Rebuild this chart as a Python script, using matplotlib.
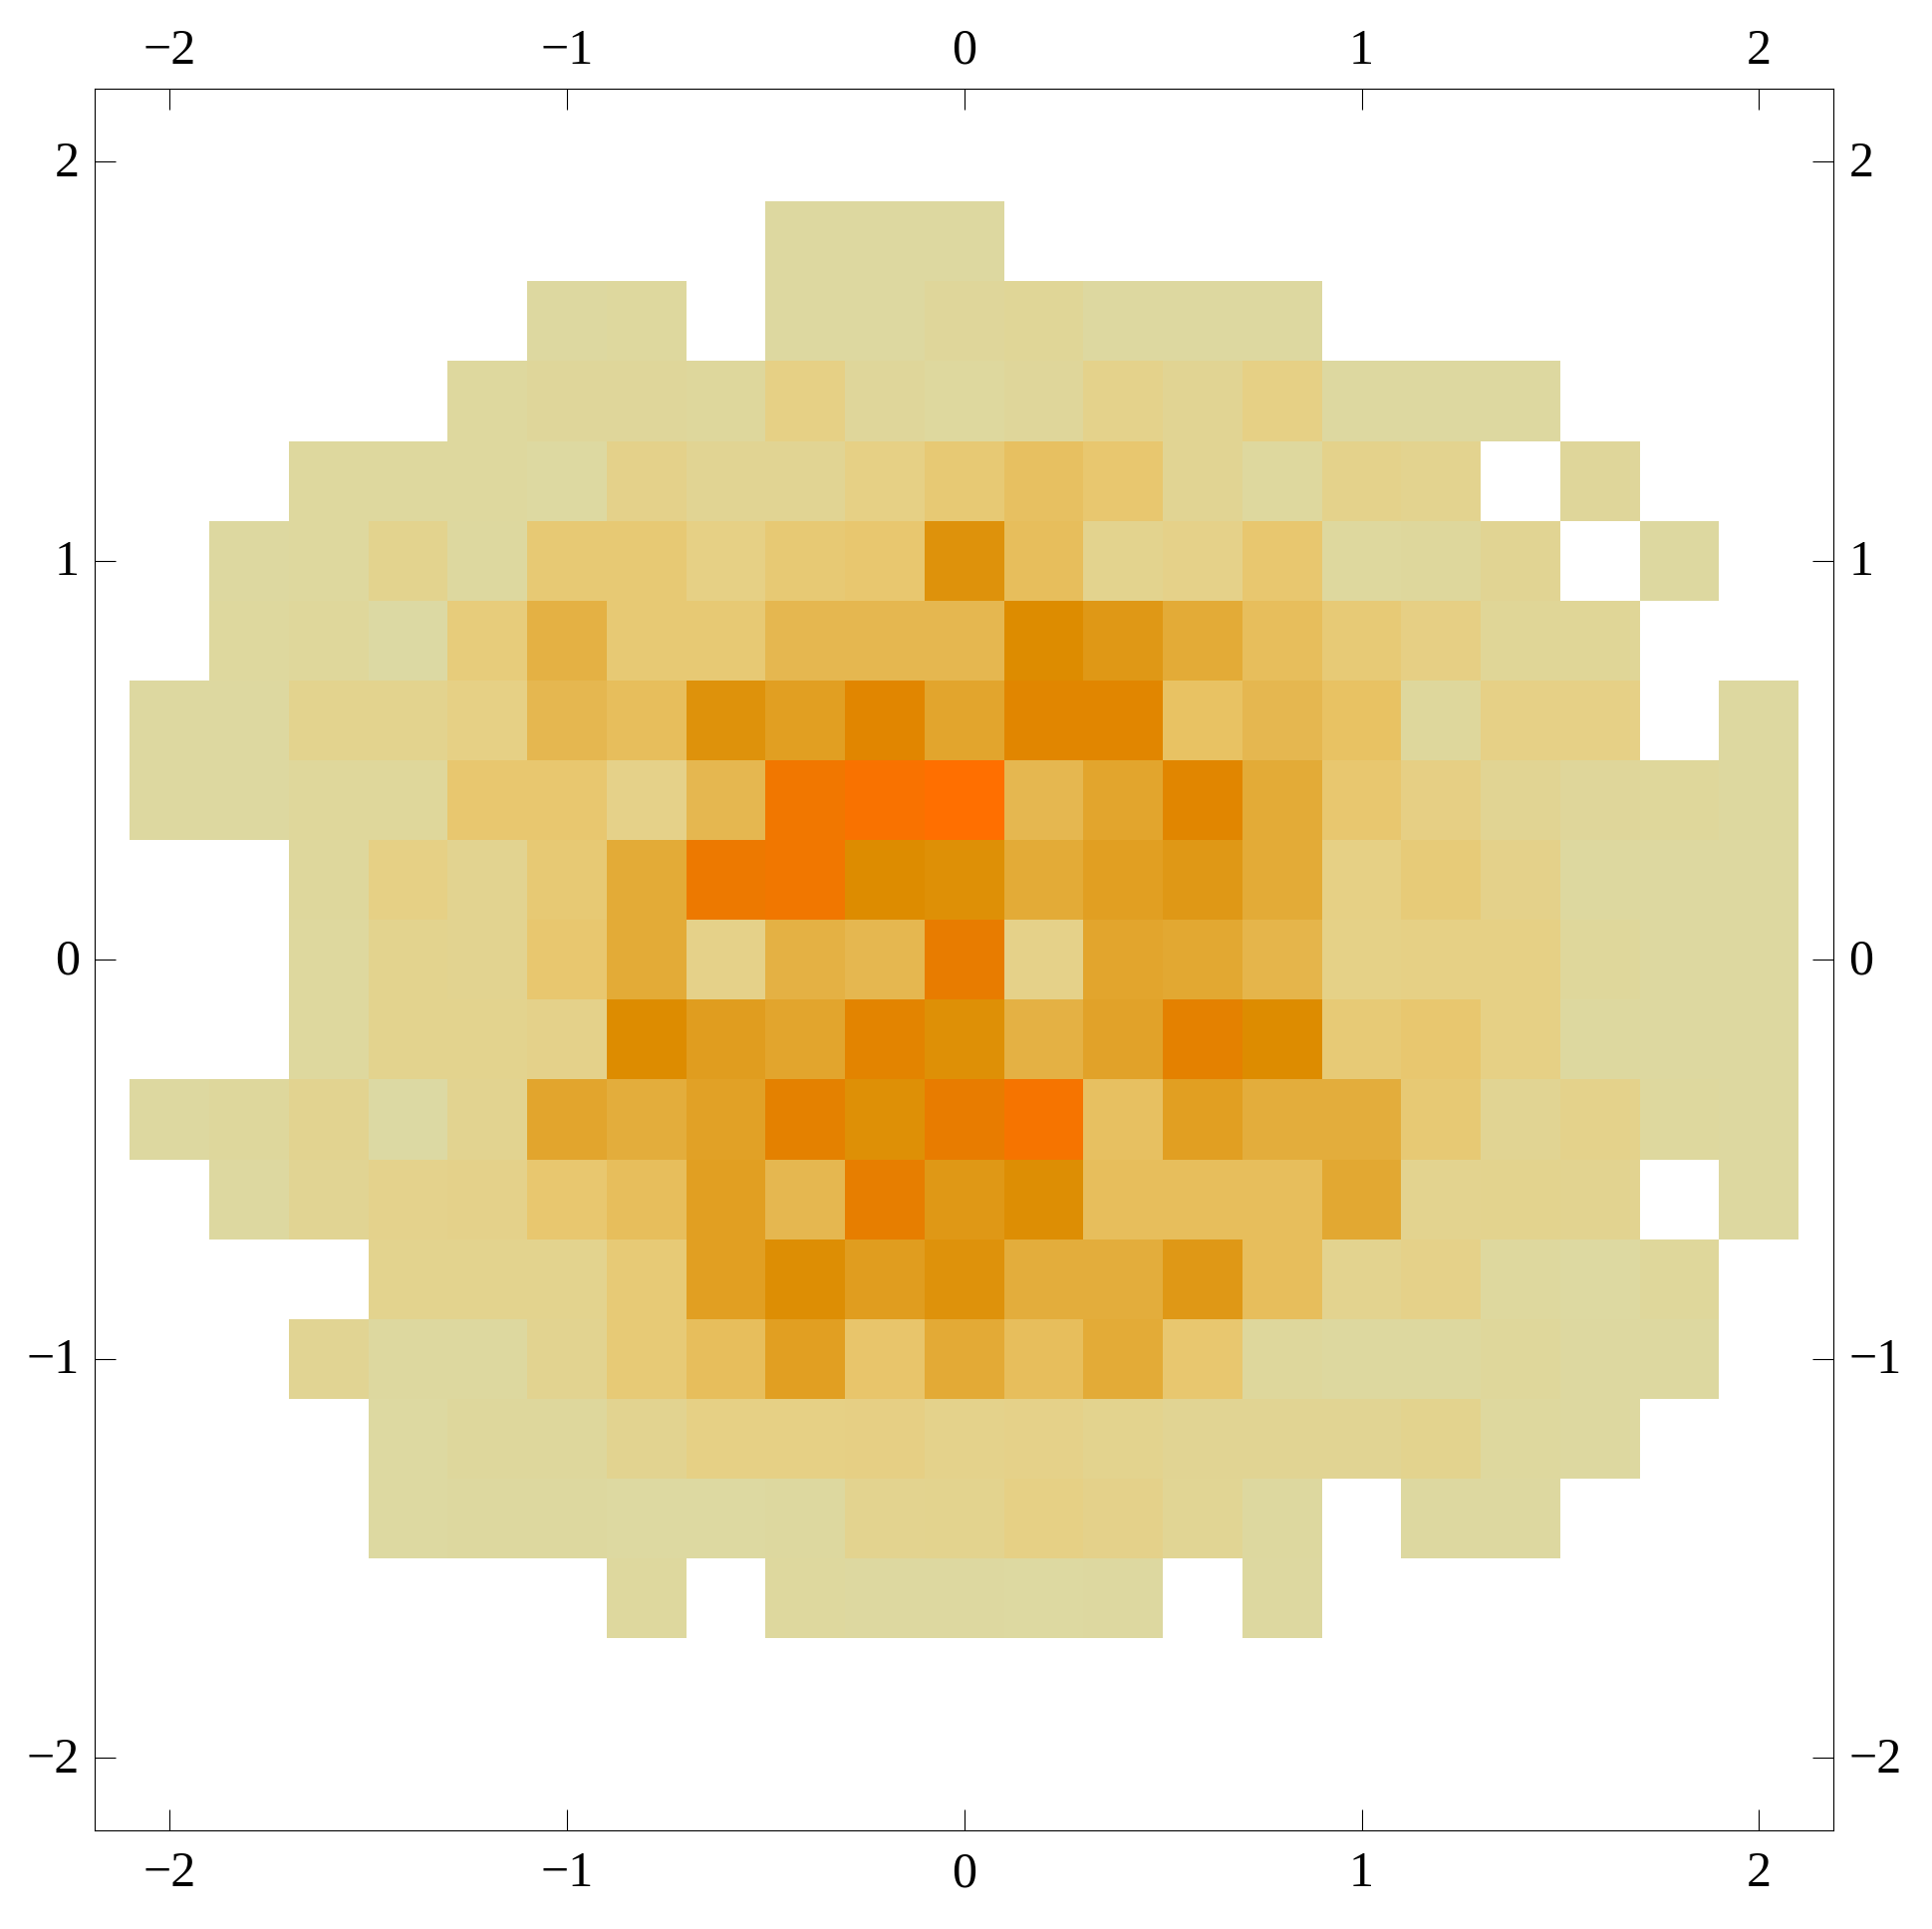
import numpy as np
import matplotlib
matplotlib.use('Agg')
import matplotlib.pyplot as plt
from matplotlib.colors import LinearSegmentedColormap
from matplotlib.transforms import ScaledTranslation

# cell edges of the histogram
x_edges = np.arange(-2.1, 2.11, 0.2)
y_edges = np.arange(-1.7, 1.91, 0.2)
ticks = [-2, -1, 0, 1, 2]

n = np.nan
# one row per y bin, top row first, 21 columns from x=-2.0 to x=2.0
row_p18 = [n,n,n,n,n,n,n,n,1,1,1,n,n,n,n,n,n,n,n,n,n]
row_p16 = [n,n,n,n,n,1,1.2,n,1,1,1.5,1.7,1,1,1,n,n,n,n,n,n]
row_p14 = [n,n,n,n,1.2,1.5,1.5,1.3,3.2,1.5,1.2,1.5,2.7,2.1,3.2,1,1,1,n,n,n]
row_p12 = [n,n,1.2,1.2,1.2,0.9,2.8,2.1,2.1,3.2,4,4.8,4.2,2.1,1.2,2.7,2.4,n,1.5,n,n]
row_p10 = [n,1,1.2,2.5,1.1,4,4,3.2,4,4.2,8.5,5,2.5,2.9,4.2,1.2,1.3,2.1,n,1,n]
row_p08 = [n,1.2,1.4,0.8,3.7,6,4,4,5.5,5.5,5.5,9,8,6.5,5,3.9,3.3,1.7,1.7,n,n]
row_p06 = [1,1,2.5,2.5,3.2,5.5,5,8.5,7.5,9.5,7,9.5,9.5,4.7,5.5,4.7,1.3,3.1,3.1,n,1]
row_p04 = [1,1,1.4,1.4,4.2,4.2,2.9,5.5,11.5,12.3,13,5.5,7,9.5,6.5,4.2,3.3,2.1,1.5,1.4,1.1]
row_p02 = [n,n,1.3,3.2,2.3,4,6.5,11,11.5,9,8.7,6.5,7.5,8,6.5,3.2,3.8,2.8,1.1,1,1]
row_000 = [n,n,1.2,2.5,2.3,4.2,6.5,2.9,6,5.5,10.5,2.9,7,6.8,5.7,3,3.2,3.2,1.4,1,1]
row_m02 = [n,n,1.2,2.5,2.5,2.8,9,7.6,7,9.8,8.7,6,7.2,10,9,3.9,4.2,3.2,1.1,1,1]
row_m04 = [1,1.3,2.3,0.8,2.3,7,6.3,7.3,10,8.7,10.5,12,4.8,7.5,6.3,6.3,4,2.1,2.7,1.2,1]
row_m06 = [n,1,2.1,2.6,2.8,4.2,5,7.5,5.5,10.3,8,8.8,5,5,5,6.8,2.4,2.5,2.3,n,1]
row_m08 = [n,n,n,2.5,2.5,2.5,3.9,7.5,8.8,7.6,8.5,6.3,6.3,8,5,2.4,2.9,1.2,0.9,1.4,n]
row_m10 = [n,n,2.1,1.1,1.1,2.3,3.9,5,7.5,4.4,6.6,5,6.5,4.2,1.3,1.1,1.1,1.4,1,1,n]
row_m12 = [n,n,n,0.9,1.3,1.3,2.3,3.2,3.2,3.3,2.7,2.9,2.5,2.1,2.1,2.1,2.5,1.2,1,n,n]
row_m14 = [n,n,n,0.9,1.1,1.1,0.9,0.9,1.1,2.4,2.5,3.2,2.8,2,1.1,n,1,1,n,n,n]
row_m16 = [n,n,n,n,n,n,1.2,n,1.2,1,1,0.9,1,n,1,n,n,n,n,n,n]

rows = [row_p18, row_p16, row_p14, row_p12, row_p10, row_p08, row_p06, row_p04, row_p02,
	row_000, row_m02, row_m04, row_m06, row_m08, row_m10, row_m12, row_m14, row_m16]

counts = np.ma.masked_invalid(np.array(rows[::-1]))

cmap = LinearSegmentedColormap.from_list('hist', [
	(0.0, '#d9dcac'),
	(3.2/13, '#e6d085'),
	(4.5/13, '#e8c468'),
	(6.5/13, '#e3ab38'),
	(9.0/13, '#dd8c00'),
	(10.5/13, '#e87c00'),
	(1.0, '#ff6f00'),
])

plt.rcParams['font.family'] = ['Liberation Serif', 'DejaVu Serif']

fig = plt.figure(figsize=(19.39, 19.36), dpi=100, facecolor='white')
ax = fig.add_axes([95.3/1939, 1-1837/1936, 1745/1939, 1747.7/1936])

ax.pcolormesh(x_edges, y_edges, counts, cmap=cmap, vmin=0, vmax=13, edgecolors='none', antialiased=False)

ax.set_xlim(-2.188, 2.188)
ax.set_ylim(-2.1815, 2.182)
ax.set_xticks(ticks)
ax.set_yticks(ticks)

ax.tick_params(axis='both', which='major', direction='in', length=15, width=0.8, labelsize=36,
	top=True, right=True, labeltop=True, labelright=True)
ax.tick_params(axis='x', pad=15)
ax.tick_params(axis='y', pad=11)
for s in ax.spines.values():
	s.set_linewidth(0.8)

# top labels sit nearer the frame than the bottom ones
for tick in ax.xaxis.get_major_ticks():
	tick.label2.set_transform(tick.label2.get_transform() + ScaledTranslation(0, -4.5/72, fig.dpi_scale_trans))
# digits centred on the tick
for tick in ax.yaxis.get_major_ticks():
	tick.label1.set_transform(tick.label1.get_transform() + ScaledTranslation(0, 2.2/72, fig.dpi_scale_trans))
	tick.label2.set_transform(tick.label2.get_transform() + ScaledTranslation(0, 2.2/72, fig.dpi_scale_trans))

fig.savefig('out.png', dpi=100)
